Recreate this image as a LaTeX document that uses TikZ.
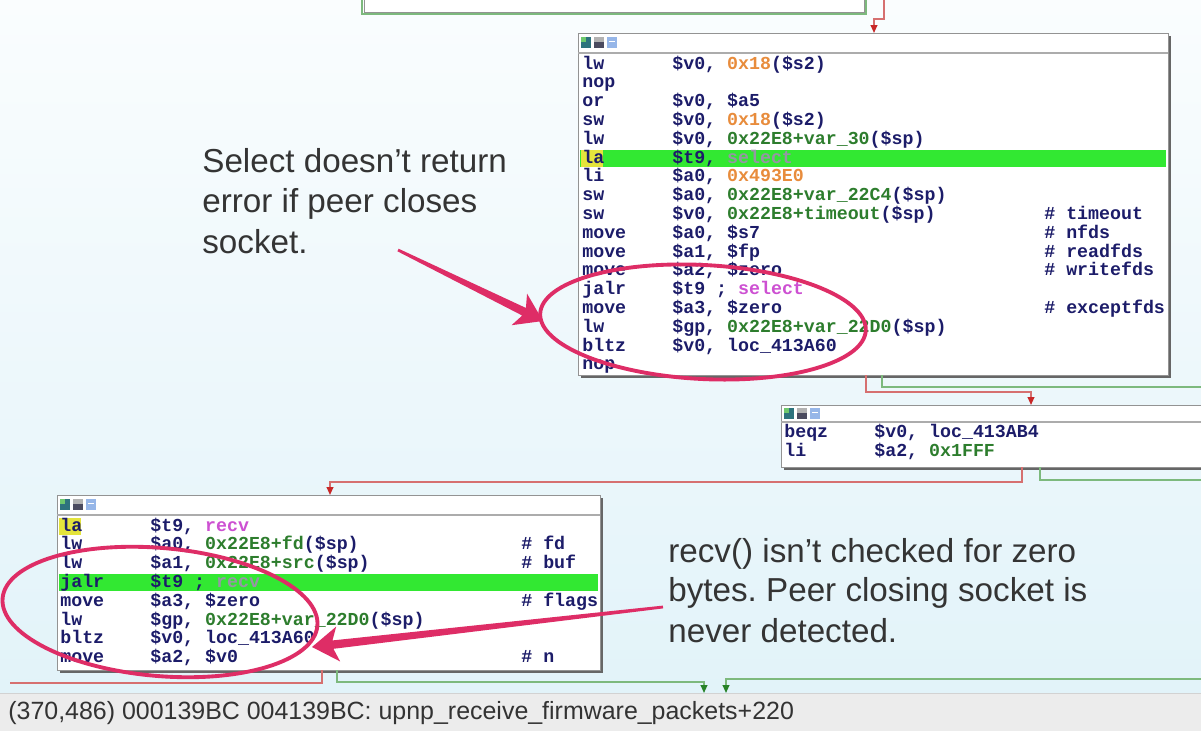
\documentclass[tikz,border=0pt]{standalone}
\usepackage{fontspec}
\setmainfont{Liberation Sans}
\newfontfamily\codefamily{Liberation Mono}
\usetikzlibrary{calc,arrows.meta,shadows}
\frenchspacing

\definecolor{bgtop}{RGB}{250,253,254}
\definecolor{bgbot}{RGB}{226,243,249}
\definecolor{asmblue}{RGB}{28,28,105}
\definecolor{hexorange}{RGB}{232,140,60}
\definecolor{vargreen}{RGB}{45,125,45}
\definecolor{impviolet}{RGB}{205,80,210}
\definecolor{fadetxt}{RGB}{150,150,165}
\definecolor{barlime}{RGB}{50,232,50}
\definecolor{markyellow}{RGB}{228,228,60}
\definecolor{edgered}{RGB}{214,112,112}
\definecolor{edgegreen}{RGB}{125,185,125}
\definecolor{tipred}{RGB}{200,40,40}
\definecolor{tipgreen}{RGB}{40,130,40}
\definecolor{skitch}{RGB}{222,45,102}
\definecolor{notegray}{RGB}{52,52,52}
\definecolor{statusgray}{RGB}{236,236,236}
\definecolor{iconteal}{RGB}{45,115,125}
\definecolor{iconlime}{RGB}{110,200,110}
\definecolor{icondark}{RGB}{75,75,95}
\definecolor{iconsky}{RGB}{150,182,232}

\newcommand{\pxu}{0.02cm}
\newcommand{\hexc}[1]{\textcolor{hexorange}{#1}}
\newcommand{\varc}[1]{\textcolor{vargreen}{#1}}
\newcommand{\impc}[1]{\textcolor{impviolet}{#1}}
\newcommand{\fadec}[1]{\textcolor{fadetxt}{#1}}

% three little icons in a block header
\newcommand{\hdricons}[2]{%
  \begin{scope}[shift={(#1,#2)}]
    \fill[iconteal] (0,0) rectangle (10,11);
    \fill[iconlime] (0,0) rectangle (5,5);
    \fill[gray!60] (13,0) rectangle (23,11);
    \fill[icondark] (13,5) rectangle (23,11);
    \fill[iconsky] (26,0) rectangle (36,11);
    \fill[white] (28,4) rectangle (34,5);
  \end{scope}}

% tapered annotation arrow: tail, tip
\newcommand{\skarrow}[2]{%
  \coordinate (#2-neck) at ($(#2)!12pt!(#1)$);
  \coordinate (#2-back) at ($(#2)!15pt!(#1)$);
  \fill[skitch] ($(#1)!0.8pt!90:(#2)$) -- ($(#2-neck)!2.4pt!90:(#2)$)
    -- ($(#2-back)!10pt!90:(#2)$) -- (#2) -- ($(#2-back)!10pt!-90:(#2)$)
    -- ($(#2-neck)!2.4pt!-90:(#2)$) -- ($(#1)!0.8pt!-90:(#2)$) -- cycle;}

\tikzset{
  blk/.style={draw=gray!85, fill=white, line width=0.5pt, inner sep=0pt,
    outer sep=0pt, anchor=north west,
    drop shadow={shadow xshift=1.6pt, shadow yshift=-1.6pt, opacity=1, fill=black!60}},
  hdrsep/.style={draw=gray!65, line width=1pt},
  asm/.style={anchor=base west, inner sep=0pt, text=asmblue,
    font=\codefamily\bfseries\fontsize{10.4}{12}\selectfont},
  note/.style={anchor=base west, inner sep=0pt, text=notegray,
    font=\fontsize{18.9}{22}\selectfont},
  statustxt/.style={anchor=base west, inner sep=0pt, text=black!80,
    font=\fontsize{14.2}{16}\selectfont},
  rededge/.style={draw=edgered, line width=0.9pt},
  grnedge/.style={draw=edgegreen, line width=0.9pt},
  redtip/.style={-{Triangle[length=4.5pt,width=3.8pt,color=tipred]}},
  grntip/.style={-{Triangle[length=4.5pt,width=3.8pt,color=tipgreen]}},
  ring/.style={draw=skitch, line width=2.2pt},
}

\begin{document}
\begin{tikzpicture}[x=0.02cm, y=-0.02cm]
  \useasboundingbox (0,0) rectangle (1201,731);
  \shade[top color=bgtop, bottom color=bgbot] (0,0) rectangle (1201,693);

  % blocks
  \node[blk, minimum width=500*\pxu, minimum height=25*\pxu] (upblk) at (364,-13) {};
  \draw[edgegreen, line width=1.2pt] ($(upblk.north west)+(-2,0)$) |- ($(upblk.south east)+(2,2)$) |- (upblk.north east);
  \node[blk, minimum width=590*\pxu, minimum height=342*\pxu] (selblk) at (578,33) {};
  \node[blk, minimum width=440*\pxu, minimum height=62*\pxu] (beqblk) at (781,405) {};
  \node[blk, minimum width=543*\pxu, minimum height=175*\pxu] (recvblk) at (57,495) {};

  \foreach \b/\h in {selblk/20, beqblk/17, recvblk/20}
    \draw[hdrsep] ($(\b.north west)+(0,\h)$) -- ($(\b.north east)+(0,\h)$);
  \hdricons{581}{37}
  \hdricons{784}{408}
  \hdricons{60}{499}

  % select block
  \begin{scope}
    \clip (selblk.north west) rectangle (selblk.south east);
    \fill[barlime] (580,149.5) rectangle (1166,167);
    \fill[markyellow] (581,149.5) rectangle (603,167);
    \foreach \mn/\op [count=\i] in {lw/{\$v0, \hexc{0x18}(\$s2)}, nop/{}, or/{\$v0, \$a5},
        sw/{\$v0, \hexc{0x18}(\$s2)}, lw/{\$v0, \varc{0x22E8+var\_30}(\$sp)},
        la/{\$t9, \fadec{select}}, li/{\$a0, \hexc{0x493E0}},
        sw/{\$a0, \varc{0x22E8+var\_22C4}(\$sp)}, sw/{\$v0, \varc{0x22E8+timeout}(\$sp)},
        move/{\$a0, \$s7}, move/{\$a1, \$fp}, move/{\$a2, \$zero},
        jalr/{\$t9 ; \impc{select}}, move/{\$a3, \$zero},
        lw/{\$gp, \varc{0x22E8+var\_22D0}(\$sp)}, bltz/{\$v0, loc\_413A60}, nop/{}}{
      \pgfmathsetmacro\yy{69+18.8*(\i-1)}
      \node[asm] (sel-m\i) at (582,\yy) {\mn};
      \node[asm] (sel-o\i) at (672,\yy) {\op};
    }
    \foreach \r/\cm in {9/timeout, 10/nfds, 11/readfds, 12/writefds, 14/exceptfds}{
      \pgfmathsetmacro\yy{69+18.8*(\r-1)}
      \node[asm] (sel-c\r) at (1044,\yy) {\# \cm};
    }
  \end{scope}

  % beqz block
  \begin{scope}
    \clip (beqblk.north west) rectangle (beqblk.south east);
    \node[asm] (beq-m1) at (784,437) {beqz};
    \node[asm] (beq-o1) at (874,437) {\$v0, loc\_413AB4};
    \node[asm] (beq-m2) at (784,456) {li};
    \node[asm] (beq-o2) at (874,456) {\$a2, \varc{0x1FFF}};
  \end{scope}

  % recv block
  \begin{scope}
    \clip (recvblk.north west) rectangle (recvblk.south east);
    \fill[barlime] (59,573.5) rectangle (598,591.3);
    \fill[markyellow] (59,517.5) rectangle (81,535);
    \foreach \mn/\op [count=\i] in {la/{\$t9, \impc{recv}}, lw/{\$a0, \varc{0x22E8+fd}(\$sp)},
        lw/{\$a1, \varc{0x22E8+src}(\$sp)}, jalr/{\$t9 ; \fadec{recv}},
        move/{\$a3, \$zero}, lw/{\$gp, \varc{0x22E8+var\_22D0}(\$sp)},
        bltz/{\$v0, loc\_413A60}, move/{\$a2, \$v0}}{
      \pgfmathsetmacro\yy{531+18.8*(\i-1)}
      \node[asm] (recv-m\i) at (60,\yy) {\mn};
      \node[asm] (recv-o\i) at (150,\yy) {\op};
    }
    \foreach \r/\cm in {2/fd, 3/buf, 5/flags, 8/n}{
      \pgfmathsetmacro\yy{531+18.8*(\r-1)}
      \node[asm] (recv-c\r) at (521,\yy) {\# \cm};
    }
  \end{scope}

  % graph edges
  \coordinate (upper-in) at (884,0);
  \coordinate (right-out1) at (1205,387);
  \coordinate (right-out2) at (1205,480);
  \coordinate (right-in3) at (1205,679);
  \coordinate (left-out) at (10,683);
  \coordinate (down-in1) at (704,693);
  \coordinate (down-in2) at (726,693);
  \draw[rededge, redtip] (upper-in) -- ++(0,19) -| ($(selblk.north west)+(296,0)$);
  \draw[rededge, redtip] ($(selblk.south west)+(288,0)$) -- ++(0,17) -| ($(beqblk.north west)+(250,0)$);
  \draw[grnedge] ($(selblk.south west)+(304,0)$) |- (right-out1);
  \draw[rededge, redtip] ($(beqblk.south west)+(241,0)$) -- ++(0,15) -| ($(recvblk.north west)+(273,0)$);
  \draw[grnedge] ($(beqblk.south west)+(259,0)$) |- (right-out2);
  \draw[rededge] ($(recvblk.south west)+(265,0)$) |- (left-out);
  \draw[grnedge, grntip] ($(recvblk.south west)+(280,0)$) -- ++(0,12) -| (down-in1);
  \draw[grnedge, grntip] (right-in3) -| (down-in2);

  % status bar
  \fill[statusgray] (0,693) rectangle (1201,731);
  \draw[gray!35] (0,693) -- (1201,693);
  \node[statustxt] (statusline) at (8,719) {(370,486) 000139BC 004139BC: upnp\_receive\_firmware\_packets+220};

  % notes
  \node[note] (selnote1) at (202,172) {Select doesn't return};
  \node[note] (selnote2) at (202,212) {error if peer closes};
  \node[note] (selnote3) at (202,253) {socket.};
  \node[note] (recvnote1) at (668,562) {recv() isn't checked for zero};
  \node[note] (recvnote2) at (668,601) {bytes. Peer closing socket is};
  \node[note] (recvnote3) at (668,642) {never detected.};

  \coordinate (selring) at (703,322);
  \coordinate (recvring) at (160,612);
  \draw[ring, rotate around={-3:(selring)}] (selring) ellipse [x radius=163, y radius=57];
  \draw[ring, rotate around={-5:(recvring)}] (recvring) ellipse [x radius=158, y radius=64];

  \coordinate (selarrow-tail) at (398,250);
  \coordinate (selarrow-tip) at (543,321);
  \coordinate (recvarrow-tail) at (663,607);
  \coordinate (recvarrow-tip) at (312,647);
  \skarrow{selarrow-tail}{selarrow-tip}
  \skarrow{recvarrow-tail}{recvarrow-tip}
\end{tikzpicture}
\end{document}
